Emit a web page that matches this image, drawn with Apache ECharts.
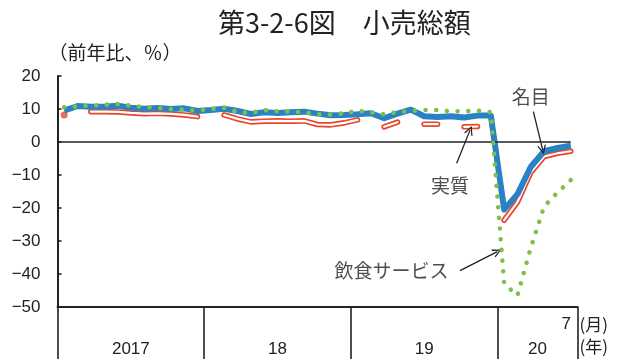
<!DOCTYPE html>
<html>
<head>
<meta charset="utf-8">
<script src="https://cdn.jsdelivr.net/npm/echarts@6/dist/echarts.min.js"></script>
<style>
  html, body { margin: 0; padding: 0; background: #fff; }
  #chart { width: 617px; height: 359px; }
</style>
</head>
<body>
<div id="chart"></div>
<script>
// Monthly periods (January and February are reported together)
const monthLabels = [
  '1-2', '3', '4', '5', '6', '7', '8', '9', '10', '11', '12',
  '1-2', '3', '4', '5', '6', '7', '8', '9', '10', '11', '12',
  '1-2', '3', '4', '5', '6', '7', '8', '9', '10', '11', '12',
  '1-2', '3', '4', '5', '6', '7'
];
const yearLabels = ['2017', '18', '19', '20'];

// Year-on-year change, %
const nominal = [
  9.5, 10.9, 10.7, 10.7, 11.0, 10.4, 10.1, 10.3, 10.0, 10.2, 9.4,
  9.7, 10.1, 9.4, 8.5, 9.0, 8.8, 9.0, 9.2, 8.6, 8.1, 8.2,
  8.4, 8.7, 7.2, 8.6, 9.8, 7.8, 7.6, 7.8, 7.4, 8.0, 8.0,
  -20.5, -15.8, -7.5, -2.8, -1.8, -1.1
];
const real = [
  8.2, null, 9.2, 9.2, 9.1, 8.8, 8.6, 8.7, 8.5, 8.2, 7.7,
  null, 8.2, 7.0, 6.1, 6.3, 6.4, 6.3, 6.4, 5.3, 5.2, 5.8,
  6.7, null, 4.6, 6.0, null, 5.4, 5.4, null, 4.6, 4.7, null,
  -23.7, -18.2, -9.2, -4.4, -3.4, -2.8
];
const dining = [
  10.5, 10.8, 11.0, 11.3, 11.5, 11.0, 10.6, 10.3, 10.0, 9.8, 9.5,
  10.0, 10.4, 9.0, 8.8, 9.7, 9.3, 9.2, 9.0, 8.4, 8.3, 8.7,
  9.5, 9.0, 8.4, 9.1, 9.4, 9.7, 9.7, 9.3, 9.3, 9.5, 9.0,
  -43.0, -46.5, -32.0, -19.5, -15.3, -11.5
];

const yMin = -50, yMax = 20, yStep = 10;

const n = monthLabels.length;
const pairs = arr => arr.map((v, i) => [i, v]);

// Year spans: each year starts at its '1-2' period
const yearStarts = monthLabels.map((m, i) => m === '1-2' ? i : -1).filter(i => i >= 0);
const yearBounds = yearStarts.map(i => i - 0.5).concat([n - 0.5]);
const yearCenters = yearStarts.map((s, j) => (yearBounds[j] + yearBounds[j + 1]) / 2);

// Points of the real series that have no neighbours are drawn as dots
const realIsolated = real
  .map((v, i) => (v != null && real[i - 1] == null && real[i + 1] == null) ? [i, v] : null)
  .filter(p => p);

const CJK = "'Noto Sans CJK JP', 'Noto Sans', sans-serif";
const NUM = "'Liberation Sans', Arial, sans-serif";
const INK = '#222';
const BLUE = '#2a82c6';
const RED = '#e8452c';
const GREEN = '#7cc04a';

const chevron = 'path://M5,0 L10,12 L8.4,12 L5,3.4 L1.6,12 L0,12 Z';

// Callout text and leader arrows, in axis units
const callouts = [
  { text: '名目', at: [35.0, 13.6], from: [35.19, 9.2], to: [35.89, -2.4] },
  { text: '実質', at: [28.94, -13.3], from: [29.44, -6.45], to: [30.44, 3.6] },
  { text: '飲食サービス', at: [24.55, -39.1], from: [29.69, -39.0], to: [32.49, -33.2] }
];

const chart = echarts.init(document.getElementById('chart'), null, { renderer: 'canvas' });

const baseX = {
  type: 'value', min: -0.5, max: n - 0.5, position: 'bottom',
  splitLine: { show: false }
};

chart.setOption({
  animation: false,
  backgroundColor: '#fff',
  title: {
    text: '第3-2-6図　小売総額',
    left: 213, top: 4,
    textStyle: { fontFamily: CJK, fontSize: 27, fontWeight: 'normal', color: INK }
  },
  grid: { left: 57.5, right: 39.5, top: 76, bottom: 52 },
  xAxis: [
    Object.assign({}, baseX, {
      axisLine: { show: true, onZero: false, lineStyle: { color: INK, width: 2 } },
      axisTick: { show: true, customValues: yearBounds, length: 52, lineStyle: { color: INK, width: 1.6 } },
      axisLabel: { show: false }
    }),
    Object.assign({}, baseX, {
      offset: 18,
      axisLine: { show: false, onZero: false },
      axisTick: { show: false },
      axisLabel: {
        customValues: [n - 1],
        formatter: v => monthLabels[Math.round(v)],
        verticalAlign: 'middle', align: 'right', margin: -1,
        fontFamily: NUM, fontSize: 17, color: INK
      },
      name: '(月)', nameLocation: 'end', nameGap: 2,
      nameTextStyle: { fontFamily: CJK, fontSize: 17, color: INK, align: 'left', verticalAlign: 'middle' }
    }),
    Object.assign({}, baseX, {
      offset: 40,
      axisLine: { show: false, onZero: false },
      axisTick: { show: false },
      axisLabel: {
        customValues: yearCenters,
        formatter: v => yearLabels[yearCenters.indexOf(v)],
        verticalAlign: 'middle', margin: 2,
        fontFamily: NUM, fontSize: 17, color: INK
      },
      name: '(年)', nameLocation: 'end', nameGap: 2,
      nameTextStyle: { fontFamily: CJK, fontSize: 17, color: INK, align: 'left', verticalAlign: 'middle' }
    })
  ],
  yAxis: {
    type: 'value', min: yMin, max: yMax, interval: yStep,
    axisLine: { show: true, onZero: false, lineStyle: { color: INK, width: 2 } },
    axisTick: { show: true, inside: true, length: 4, lineStyle: { color: INK, width: 1.6 } },
    axisLabel: {
      margin: 17, fontFamily: NUM, fontSize: 17, color: INK,
      formatter: v => v < 0 ? '\u2212' + Math.abs(v) : String(v)
    },
    splitLine: { show: false },
    name: '（前年比、％）', nameLocation: 'end', nameGap: 14,
    nameTextStyle: { fontFamily: CJK, fontSize: 19, color: INK, align: 'left', padding: [0, 0, 0, -9] }
  },
  series: [
    {
      name: '実質', type: 'line', data: pairs(real), connectNulls: false,
      showSymbol: false, silent: true, z: 2,
      lineStyle: { color: RED, width: 5.6, cap: 'round', join: 'round' },
      markLine: {
        silent: true, symbol: 'none', label: { show: false },
        lineStyle: { color: INK, width: 1.6, type: 'solid' },
        data: [[{ coord: [-0.5, 0] }, { coord: [n - 1, 0] }]]
      }
    },
    {
      name: '実質-inner', type: 'line', data: pairs(real), connectNulls: false,
      showSymbol: false, silent: true, z: 3,
      lineStyle: { color: '#fff', width: 2.2, cap: 'round', join: 'round' }
    },
    {
      name: '実質-dot', type: 'scatter', data: realIsolated, silent: true, z: 3,
      symbol: 'circle', symbolSize: 7, itemStyle: { color: RED }
    },
    {
      name: '名目', type: 'line', data: pairs(nominal),
      showSymbol: false, silent: true, z: 4,
      lineStyle: { color: BLUE, width: 6, join: 'round' }
    },
    {
      name: '飲食サービス', type: 'line', data: pairs(dining),
      showSymbol: false, silent: true, z: 5,
      lineStyle: { color: GREEN, width: 4.6, type: [0.01, 10.7], cap: 'round' }
    },
    {
      name: 'callouts', type: 'scatter', silent: true, z: 6,
      data: callouts.map(c => ({ value: c.at, name: c.text })),
      symbol: 'circle', symbolSize: 1, itemStyle: { color: 'rgba(0,0,0,0)' },
      label: {
        show: true, position: 'inside', formatter: '{b}',
        fontFamily: CJK, fontSize: 19, color: INK
      },
      markLine: {
        silent: true, symbol: ['none', chevron], symbolSize: 9,
        label: { show: false },
        lineStyle: { color: INK, width: 1.3, type: 'solid' },
        itemStyle: { color: INK },
        data: callouts.map(c => [{ coord: c.from }, { coord: c.to }])
      }
    }
  ]
});
</script>
</body>
</html>
